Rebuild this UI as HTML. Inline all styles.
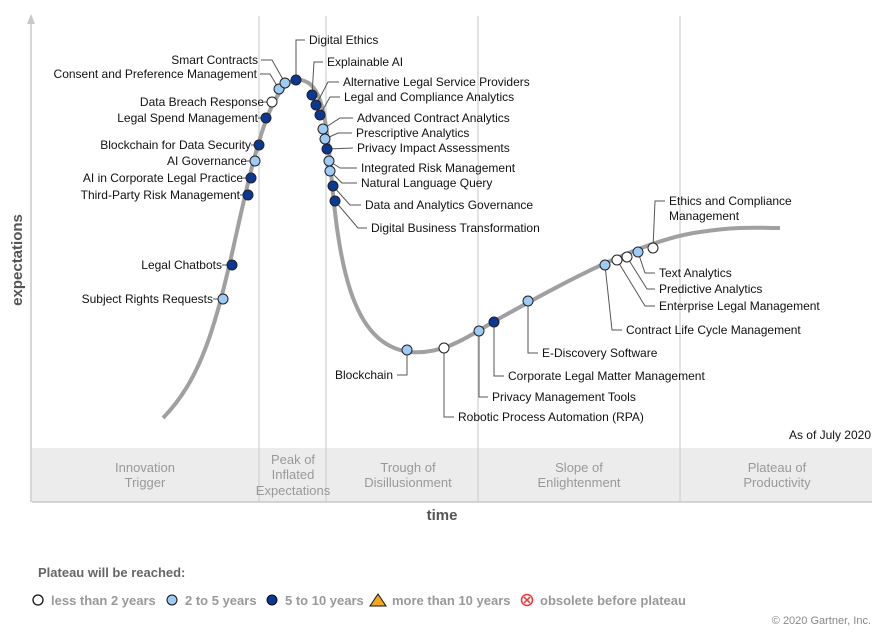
<!DOCTYPE html>
<html><head><meta charset="utf-8"><style>
body{margin:0;background:#fff;width:891px;height:637px;overflow:hidden}
svg text{font-family:"Liberation Sans",Arial,sans-serif}
</style></head><body>
<svg width="891" height="637" viewBox="0 0 891 637" xmlns="http://www.w3.org/2000/svg">
<rect x="32" y="448" width="840" height="54" fill="#ececec"/>
<g stroke="#d0d0d0" stroke-width="1.2">
<line x1="259" y1="16" x2="259" y2="502"/><line x1="326" y1="16" x2="326" y2="502"/>
<line x1="478" y1="16" x2="478" y2="502"/><line x1="680" y1="16" x2="680" y2="502"/>
</g>
<line x1="32" y1="502" x2="872" y2="502" stroke="#c8c8c8" stroke-width="1.5"/>
<line x1="31" y1="18" x2="31" y2="502" stroke="#c8c8c8" stroke-width="1.5"/>
<path d="M27,24 L31,14 L35,24 Z" fill="#c8c8c8"/>
<g font-size="13" fill="#999" text-anchor="middle">
<text x="145" y="472">Innovation</text><text x="145" y="487">Trigger</text>
<text x="293" y="464">Peak of</text><text x="293" y="479">Inflated</text><text x="293" y="495">Expectations</text>
<text x="408" y="472">Trough of</text><text x="408" y="487">Disillusionment</text>
<text x="579" y="472">Slope of</text><text x="579" y="487">Enlightenment</text>
<text x="777" y="472">Plateau of</text><text x="777" y="487">Productivity</text>
</g>
<text x="442" y="520" font-size="15" font-weight="bold" fill="#555" text-anchor="middle">time</text>
<text transform="translate(22,260) rotate(-90)" font-size="15" font-weight="bold" fill="#555" text-anchor="middle">expectations</text>
<text x="871" y="439" font-size="12" fill="#111" text-anchor="end">As of July 2020</text>
<path d="M163,418 C200,380 215,330 235,240 C255,150 270,85 296,80 C320,78 325,110 330,160 C338,260 350,345 410,352 C445,355 470,335 500,318 C560,285 640,240 700,232 C740,226 760,228 780,228" fill="none" stroke="#a0a0a0" stroke-width="4"/>
<g stroke="#555" stroke-width="1" fill="none">
<path d="M213,299 L223,299"/><path d="M222,265 L232,265"/><path d="M240,195 L248,195"/><path d="M243,178 L251,178"/><path d="M247,161 L255,161"/><path d="M251,145 L259,145"/><path d="M258,118 L266,118"/><path d="M264,102 L272,102"/>
<path d="M260,74 L270,74 L279,89"/><path d="M261,60 L272,60 L285,83"/>
<path d="M296,80 L296,40 L305,40"/><path d="M312,95 L314,62 L323,62"/>
<path d="M316,105 L328,82 L339,82"/><path d="M320,115 L330,97 L340,97"/>
<path d="M323,129 L340,118 L353,118"/><path d="M325,139 L338,133 L352,133"/><path d="M327,149 L353,148"/>
<path d="M329,161 L340,168 L357,168"/><path d="M330,171 L342,183 L357,183"/>
<path d="M333,186 L350,205 L361,205"/><path d="M335,201 L358,228 L367,228"/>
<path d="M407,350 L407,375 L397,375"/><path d="M444,348 L444,417 L454,417"/>
<path d="M479,331 L479,397 L488,397"/><path d="M494,322 L494,376 L504,376"/><path d="M528,301 L528,353 L538,353"/>
<path d="M605,265 L612,330 L622,330"/><path d="M617,260 L645,306 L655,306"/><path d="M627,257 L647,289 L655,289"/><path d="M638,252 L645,273 L655,273"/>
<path d="M653,248 L655,201 L665,201"/>
</g>
<g stroke="#222" stroke-width="1">
<g fill="#9dcbf5"><circle cx="223" cy="299" r="5"/><circle cx="255" cy="161" r="5"/><circle cx="279" cy="89" r="5"/><circle cx="285" cy="83" r="5"/><circle cx="323" cy="129" r="5"/><circle cx="325" cy="139" r="5"/><circle cx="329" cy="161" r="5"/><circle cx="330" cy="171" r="5"/><circle cx="407" cy="350" r="5"/><circle cx="479" cy="331" r="5"/><circle cx="528" cy="301" r="5"/><circle cx="605" cy="265" r="5"/><circle cx="638" cy="252" r="5"/></g>
<g fill="#0a3894"><circle cx="232" cy="265" r="5"/><circle cx="248" cy="195" r="5"/><circle cx="251" cy="178" r="5"/><circle cx="259" cy="145" r="5"/><circle cx="266" cy="118" r="5"/><circle cx="296" cy="80" r="5"/><circle cx="312" cy="95" r="5"/><circle cx="316" cy="105" r="5"/><circle cx="320" cy="115" r="5"/><circle cx="327" cy="149" r="5"/><circle cx="333" cy="186" r="5"/><circle cx="335" cy="201" r="5"/><circle cx="494" cy="322" r="5"/></g>
<g fill="#fff"><circle cx="272" cy="102" r="5"/><circle cx="444" cy="348" r="5"/><circle cx="617" cy="260" r="5"/><circle cx="627" cy="257" r="5"/><circle cx="653" cy="248" r="5"/></g>
</g>
<g font-size="12" fill="#111">
<g text-anchor="end">
<text x="213" y="303">Subject Rights Requests</text><text x="222" y="269">Legal Chatbots</text><text x="240" y="199">Third-Party Risk Management</text><text x="243" y="182">AI in Corporate Legal Practice</text><text x="247" y="165">AI Governance</text><text x="251" y="149">Blockchain for Data Security</text><text x="258" y="122">Legal Spend Management</text><text x="264" y="106">Data Breach Response</text><text x="257" y="78">Consent and Preference Management</text><text x="258" y="64">Smart Contracts</text><text x="393" y="379">Blockchain</text>
</g>
<text x="309" y="44">Digital Ethics</text><text x="327" y="66">Explainable AI</text><text x="343" y="86">Alternative Legal Service Providers</text><text x="344" y="101">Legal and Compliance Analytics</text><text x="357" y="122">Advanced Contract Analytics</text><text x="356" y="137">Prescriptive Analytics</text><text x="357" y="152">Privacy Impact Assessments</text><text x="361" y="172">Integrated Risk Management</text><text x="361" y="187">Natural Language Query</text><text x="365" y="209">Data and Analytics Governance</text><text x="371" y="232">Digital Business Transformation</text>
<text x="458" y="421">Robotic Process Automation (RPA)</text><text x="492" y="401">Privacy Management Tools</text><text x="508" y="380">Corporate Legal Matter Management</text><text x="542" y="357">E-Discovery Software</text>
<text x="626" y="334">Contract Life Cycle Management</text><text x="659" y="310">Enterprise Legal Management</text><text x="659" y="293">Predictive Analytics</text><text x="659" y="277">Text Analytics</text><text x="669" y="205">Ethics and Compliance</text><text x="669" y="220">Management</text>
</g>
<text x="38" y="577" font-size="13" font-weight="bold" fill="#666">Plateau will be reached:</text>
<g font-size="13" font-weight="bold" fill="#999">
<circle cx="38" cy="600" r="5" fill="#fff" stroke="#111" stroke-width="1.3"/><text x="51" y="605">less than 2 years</text>
<circle cx="172" cy="600" r="5" fill="#9dcbf5" stroke="#111"/><text x="185" y="605">2 to 5 years</text>
<circle cx="272" cy="600" r="5" fill="#0a3894" stroke="#111"/><text x="285" y="605">5 to 10 years</text>
<path d="M370,606 L378,594 L386,606 Z" fill="#f5a623" stroke="#111"/><text x="392" y="605">more than 10 years</text>
<circle cx="527" cy="600" r="5.5" fill="none" stroke="#e33" stroke-width="1.5"/><path d="M524,597 L530,603 M530,597 L524,603" stroke="#e33" stroke-width="1.5"/><text x="540" y="605">obsolete before plateau</text>
</g>
<text x="871" y="624" font-size="11" fill="#888" text-anchor="end">© 2020 Gartner, Inc.</text>
</svg>
</body></html>
